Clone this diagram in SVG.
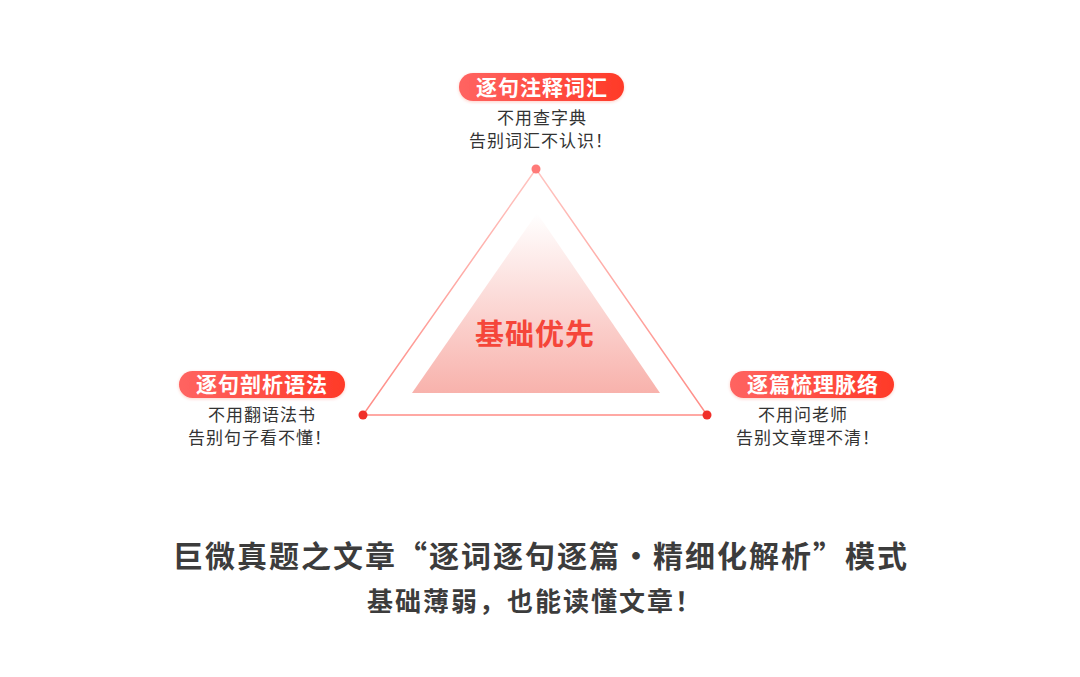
<svg xmlns="http://www.w3.org/2000/svg" width="1080" height="677" viewBox="0 0 1080 677">
<defs>
<linearGradient id="pill" x1="0" y1="0" x2="1" y2="0">
<stop offset="0" stop-color="#ff6461"/>
<stop offset="1" stop-color="#ff3a28"/>
</linearGradient>
<linearGradient id="inner" x1="0" y1="0" x2="0" y2="1">
<stop offset="0" stop-color="#ffffff"/>
<stop offset="1" stop-color="#f8b2ac"/>
</linearGradient>
<linearGradient id="edge" gradientUnits="userSpaceOnUse" x1="0" y1="169" x2="0" y2="416">
<stop offset="0" stop-color="#ffc4c0"/>
<stop offset="1" stop-color="#ff8c86"/>
</linearGradient>
<filter id="sh" x="-10%" y="-30%" width="120%" height="170%">
<feDropShadow dx="0" dy="1" stdDeviation="1.5" flood-color="#ff3a28" flood-opacity="0.25"/>
</filter>
</defs>
<style>
.pill{fill:url(#pill);filter:url(#sh)}
.pt{font-family:"Noto Sans CJK SC","Noto Sans",sans-serif;font-weight:bold;font-size:21px;fill:#ffffff;text-anchor:middle;letter-spacing:1px}
.st{font-family:"Noto Sans CJK SC","Noto Sans",sans-serif;font-size:17px;fill:#333333;text-anchor:middle;letter-spacing:1px}
.dot{fill:#f0302a}
</style>
<rect width="1080" height="677" fill="#ffffff"/>
<g id="connectors">
<polygon points="536,169 363,415 707,415" fill="none" stroke="url(#edge)" stroke-width="1.5"/>
</g>
<g id="center">
<polygon points="537,213 412,393 660,393" fill="url(#inner)"/>
<text x="535" y="345" font-family="'Noto Sans CJK SC',sans-serif" font-weight="bold" font-size="29" fill="#f5463a" text-anchor="middle" letter-spacing="1">基础优先</text>
</g>
<g id="dots">
<circle cx="536" cy="169" r="4.5" fill="#ff7a78"/>
<circle class="dot" cx="363" cy="415" r="4.5"/>
<circle class="dot" cx="707" cy="415" r="4.5"/>
</g>
<g id="node-top">
<rect class="pill" x="459" y="73" width="165" height="28" rx="14"/>
<text class="pt" x="542" y="95">逐句注释词汇</text>
<text class="st" x="542" y="124">不用查字典</text>
<text class="st" x="541" y="147">告别词汇不认识！</text>
</g>
<g id="node-left">
<rect class="pill" x="179" y="371" width="166" height="27" rx="13.5"/>
<text class="pt" x="262" y="392">逐句剖析语法</text>
<text class="st" x="262" y="421">不用翻语法书</text>
<text class="st" x="260" y="444">告别句子看不懂！</text>
</g>
<g id="node-right">
<rect class="pill" x="730" y="371" width="164" height="27" rx="13.5"/>
<text class="pt" x="813" y="392">逐篇梳理脉络</text>
<text class="st" x="803" y="421">不用问老师</text>
<text class="st" x="808" y="444">告别文章理不清！</text>
</g>
<g id="title">
<text x="541" y="567" font-family="'Noto Sans CJK SC',sans-serif" font-weight="bold" font-size="30" fill="#3c3c3c" text-anchor="middle" letter-spacing="2">巨微真题之文章“逐词逐句逐篇·精细化解析”模式</text>
<text x="535" y="611" font-family="'Noto Sans CJK SC',sans-serif" font-weight="bold" font-size="26" fill="#3c3c3c" text-anchor="middle" letter-spacing="2">基础薄弱，也能读懂文章！</text>
</g>
</svg>
